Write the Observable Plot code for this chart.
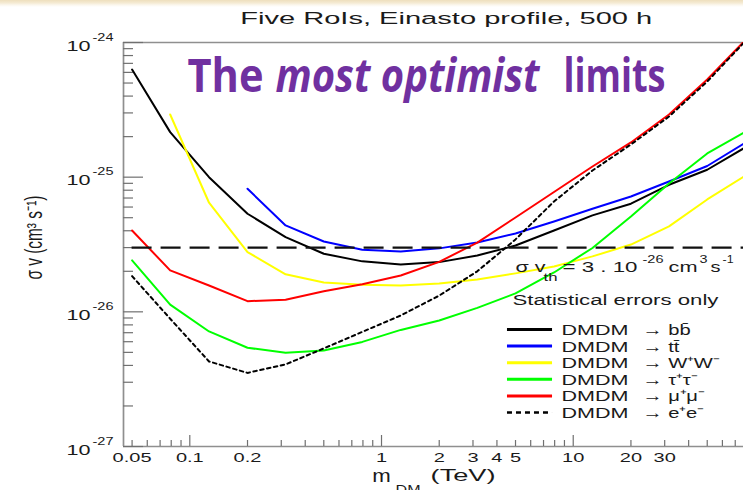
<!DOCTYPE html>
<html><head><meta charset="utf-8">
<script src="https://cdn.jsdelivr.net/npm/d3@7"></script>
<script src="https://cdn.jsdelivr.net/npm/@observablehq/plot@0.6"></script>
<style>
html,body{margin:0;padding:0;}
body{width:743px;height:490px;overflow:hidden;background:linear-gradient(to bottom,#eedfbd 0px,#f5ebd4 3px,#fbf7ee 5px,#ffffff 7px);}
</style></head><body><div id="chart"></div>
<script>
// ---- data ----
const masses = [0.05,0.079,0.126,0.2,0.316,0.5,0.794,1.26,2,3.16,5,7.94,12.6,20,31.6,50,79.4]; // TeV
const bbbar  = [6.3e-25,2.16e-25,1.0e-25,5.35e-26,3.59e-26,2.70e-26,2.37e-26,2.25e-26,2.34e-26,2.62e-26,3.11e-26,4.02e-26,5.2e-26,6.35e-26,8.78e-26,1.135e-25,1.67e-25];
const ttbar  = [null,null,null,8.2e-26,4.38e-26,3.33e-26,2.89e-26,2.81e-26,2.96e-26,3.27e-26,3.82e-26,4.69e-26,5.83e-26,7.19e-26,9.29e-26,1.21e-25,1.81e-25];
const wwbar  = [null,2.92e-25,6.46e-26,2.78e-26,1.90e-26,1.65e-26,1.59e-26,1.57e-26,1.62e-26,1.74e-26,1.93e-26,2.17e-26,2.58e-26,3.16e-26,4.31e-26,6.83e-26,1.03e-25];
const tautau = [2.41e-26,1.13e-26,7.15e-27,5.41e-27,4.97e-27,5.17e-27,5.98e-27,7.34e-27,8.63e-27,1.07e-26,1.37e-26,1.96e-26,2.98e-26,5.11e-26,8.98e-26,1.50e-25,2.18e-25];
const mumu   = [4.02e-26,2.03e-26,1.57e-26,1.20e-26,1.23e-26,1.42e-26,1.60e-26,1.86e-26,2.35e-26,3.27e-26,5.02e-26,7.76e-26,1.20e-25,1.81e-25,2.92e-25,5.31e-25,1.05e-24];
const eebar  = [1.84e-26,8.89e-27,4.28e-27,3.52e-27,4.07e-27,5.35e-27,7.10e-27,9.40e-27,1.32e-26,2.0e-26,3.45e-26,6.6e-26,1.12e-25,1.75e-25,2.82e-25,5.13e-25,1.03e-24];
const seriesValues = [bbbar, ttbar, wwbar, tautau, mumu, eebar];
const seriesLabels = ["→ bb̄","→ tt̄","→ W⁺W⁻","→ τ⁺τ⁻","→ μ⁺μ⁻","→ e⁺e⁻"];
const seriesColors = ["#000000","#0000ff","#ffff00","#00ff00","#ff0000","#000000"];
const threshold = 3e-26;
const xTickLabels = [0.05,0.1,0.2,1,2,3,4,5,10,20,30];
const xMajorTicks = [0.1,1,10];
const yDecades = [1e-27,1e-26,1e-25,1e-24];
const yExponents = ["-27","-26","-25","-24"];
const xDomain = [0.0451, 77.3];
const yDomain = [1e-27, 1e-24];
const titleText = "Five RoIs, Einasto profile, 500 h";
const yLabel = "σ v (cm³ s⁻¹)";
const formulaParts = ["σ v","th","= 3 . 10","-26","cm","3","s","-1"];

// axis minor ticks (decade subdivisions)
const xMinorTicks = [-2,-1,0,1].flatMap(k => d3.range(2,10).map(j => +(j*10**k).toPrecision(3))).filter(v => v >= 0.05 && v < 77);
const yMinorTicks = [-27,-26,-25].flatMap(k => d3.range(2,10).map(j => j*10**k));

const rows = seriesValues.flatMap((vals, s) => masses.map((m, i) => ({m, v: vals[i], s})).filter(d => d.v != null));
const legendRows = seriesLabels.map((label, i) => ({label, color: seriesColors[i], i}));
const legendY = (d) => 7.4e-27 * 10 ** (-0.1235 * d.i);

const font = "Liberation Sans, Arial, Helvetica, sans-serif";
const ink = "#1a1a1a";
const frameColor = "#8f8f8f";
const tickColor = "#707070";

// formula layout: [text index, dx, dy, fontSize, width]
const formulaLayout = [[0,0,0,15,30],[1,28,9,11,14],[2,47,0,15,75],[3,127,-9.5,11,21],[4,153,0,15,29],[5,184,-9.5,11,8],[6,195,0,15,10],[7,207,-9.5,11,11]];

const marks = [
  // frame
  Plot.ruleY([yDomain[1]], {x1: xDomain[0], x2: xDomain[1], stroke: frameColor, strokeWidth: 1.7}),
  Plot.ruleY([yDomain[0]], {x1: xDomain[0], x2: xDomain[1], stroke: frameColor, strokeWidth: 1.7}),
  Plot.ruleX([xDomain[0]], {y1: yDomain[0], y2: yDomain[1], stroke: frameColor, strokeWidth: 1.7}),
  // y ticks (inside)
  Plot.ruleY(yMinorTicks, {x1: xDomain[0], x2: xDomain[0], insetRight: -10, stroke: tickColor, strokeWidth: 1.2}),
  Plot.ruleY(yDecades, {x1: xDomain[0], x2: xDomain[0], insetRight: -20, stroke: tickColor, strokeWidth: 1.2}),
  // x ticks (inside)
  Plot.ruleX(xMinorTicks, {y1: yDomain[0], y2: yDomain[0], insetBottom: 6, stroke: tickColor, strokeWidth: 1.2}),
  Plot.ruleX(xMajorTicks, {y1: yDomain[0], y2: yDomain[0], insetBottom: 11, stroke: tickColor, strokeWidth: 1.2}),
  // y tick labels
  Plot.text(yDecades, {x: xDomain[0], y: d => d, text: () => "10", textAnchor: "end", lineAnchor: "bottom", dx: -33, dy: 8, fontSize: 15, fill: ink, fontFamily: font, ariaDescription: "f:1.44"}),
  Plot.text(yDecades, {x: xDomain[0], y: d => d, text: (d, i) => yExponents[i], textAnchor: "start", lineAnchor: "bottom", dx: -31, dy: -2, fontSize: 10, fill: ink, fontFamily: font, ariaDescription: "f:1.45"}),
  // x tick labels
  Plot.text(xTickLabels, {x: d => d, y: yDomain[0], text: d => String(d), textAnchor: "middle", lineAnchor: "bottom", dy: 15, fontSize: 12.5, fill: ink, fontFamily: font, ariaDescription: "f:1.6"}),
  // x axis title
  Plot.text(["m"], {x: 0.895, y: yDomain[0], textAnchor: "start", lineAnchor: "bottom", dy: 35.5, fontSize: 18, fill: ink, fontFamily: font, ariaDescription: "w:18.5"}),
  Plot.text(["DM"], {x: 0.895, y: yDomain[0], textAnchor: "start", lineAnchor: "bottom", dx: 23.3, dy: 47, fontSize: 12, fill: ink, fontFamily: font, ariaDescription: "w:25"}),
  Plot.text(["(TeV)"], {x: 0.895, y: yDomain[0], textAnchor: "start", lineAnchor: "bottom", dx: 58.3, dy: 34.5, fontSize: 17, fill: ink, fontFamily: font, ariaDescription: "w:65"}),
  // y axis title
  Plot.text([yLabel], {frameAnchor: "left", rotate: -90, dx: -89, dy: -7, fontSize: 23, fill: ink, fontFamily: font, textAnchor: "middle", ariaDescription: "w:84"}),
  // title
  Plot.text([titleText], {frameAnchor: "top", dx: 12.7, dy: -18.7, lineAnchor: "bottom", textAnchor: "middle", fontSize: 16, fill: ink, fontFamily: font, ariaDescription: "w:412"}),
  // purple headline
  Plot.text(["The"], {x: 0.0973, y: 4.27e-25, textAnchor: "start", lineAnchor: "bottom", fontSize: 46, fontWeight: 700, fill: "#7030a0", fontFamily: "Open Sans, sans-serif", ariaDescription: "w:76"}),
  Plot.text(["most optimist"], {x: 0.0973, y: 4.27e-25, dx: 88, textAnchor: "start", lineAnchor: "bottom", fontSize: 46, fontWeight: 700, fontStyle: "italic", fill: "#7030a0", fontFamily: "Open Sans, sans-serif", ariaDescription: "w:264"}),
  Plot.text(["limits"], {x: 0.0973, y: 4.27e-25, dx: 376, textAnchor: "start", lineAnchor: "bottom", fontSize: 46, fontWeight: 700, fill: "#7030a0", fontFamily: "Open Sans, sans-serif", ariaDescription: "w:102"}),
  // curves
  ...seriesValues.map((_, s) => Plot.line(rows.filter(d => d.s === s), {x: "m", y: "v", stroke: seriesColors[s], strokeWidth: 2, strokeDasharray: s === 5 ? "3.5,3.5" : undefined, clip: true})),
  // threshold
  Plot.ruleY([threshold], {x1: 0.05, x2: 100, stroke: "#111", strokeWidth: 2.2, strokeDasharray: "20,9", clip: true}),
  // formula
  ...formulaLayout.map(([k, dx, dy, fs, w]) => Plot.text([formulaParts[k]], {x: 5.0, y: 1.96e-26, dx, dy, textAnchor: "start", lineAnchor: "bottom", fontSize: fs, fill: ink, fontFamily: font, ariaDescription: "w:" + w})),
  Plot.text(["Statistical errors only"], {x: 4.82, y: 1.96e-26, dy: 33, textAnchor: "start", lineAnchor: "bottom", fontSize: 15.5, fill: ink, fontFamily: font, ariaDescription: "w:206"}),
  // legend
  Plot.ruleY(legendRows.filter(d => d.i < 5), {x1: 4.54, x2: 7.8, y: legendY, stroke: "color", strokeWidth: 3}),
  Plot.ruleY(legendRows.filter(d => d.i === 5), {x1: 4.54, x2: 7.8, y: legendY, stroke: "color", strokeWidth: 2.5, strokeDasharray: "5,4"}),
  Plot.text(legendRows, {x: 8.69, y: legendY, text: () => "DMDM", dy: 5.5, textAnchor: "start", lineAnchor: "bottom", fontSize: 15.5, fill: ink, fontFamily: font, ariaDescription: "f:1.39"}),
  Plot.text(legendRows, {x: 22.98, y: legendY, text: "label", dy: 5.5, textAnchor: "start", lineAnchor: "bottom", fontSize: 15.5, fill: ink, fontFamily: font, ariaDescription: "f:1.3"})
];

const svg = Plot.plot({
  width: 743, height: 490,
  marginLeft: 123, marginRight: 0, marginTop: 42, marginBottom: 44,
  x: {type: "log", domain: xDomain, axis: null},
  y: {type: "log", domain: yDomain, axis: null},
  color: {type: "identity"},
  style: {background: "transparent", fontFamily: font, overflow: "visible"},
  marks
});
document.getElementById("chart").appendChild(svg);

// stretch texts horizontally like the (stretched) original figure
svg.querySelectorAll("g[aria-description]").forEach(g => {
  const m = /^(w|f):([\d.]+)$/.exec(g.getAttribute("aria-description"));
  if (!m) return;
  const val = +m[2];
  g.querySelectorAll("text").forEach(t => {
    const w = t.getComputedTextLength();
    if (!w) return;
    const target = m[1] === "w" ? val : w * val;
    const anchor = getComputedStyle(t).textAnchor;
    const x0 = +(t.getAttribute("x") || 0);
    const shift = anchor === "middle" ? target / 2 : anchor === "end" ? target : 0;
    t.setAttribute("textLength", target);
    t.setAttribute("lengthAdjust", "spacingAndGlyphs");
    t.setAttribute("x", x0 - shift);
    t.setAttribute("text-anchor", "start");
  });
});
</script></body></html>
